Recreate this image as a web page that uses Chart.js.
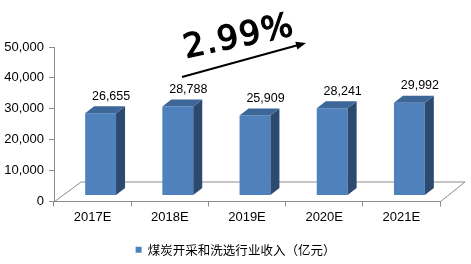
<!DOCTYPE html>
<html>
<head>
<meta charset="utf-8">
<script src="https://cdn.jsdelivr.net/npm/chart.js@4.4.0/dist/chart.umd.min.js"></script>
<style>
  html, body { margin: 0; padding: 0; background: #fff; }
  #wrap { width: 471px; height: 264px; }
</style>
</head>
<body>
<div id="wrap"><canvas id="revenueChart" width="471" height="264"></canvas></div>
<script>
// Données du graphique
const years = ["2017E", "2018E", "2019E", "2020E", "2021E"];
const revenue = [26655, 28788, 25909, 28241, 29992];
const yTicks = [0, 10000, 20000, 30000, 40000, 50000];
const seriesName = "煤炭开采和洗选行业收入（亿元）";
const cagrText = "2.99%";

// Décalage de profondeur pour l'effet 3D
const DEPTH_X = 9, DEPTH_Y = -7;     // faces latérales / dessus
const SHIFT_X = 8, SHIFT_Y = -6;     // barres placées au milieu du sol
const FLOOR_X = 27, FLOOR_Y = -20;   // profondeur du sol

const fmt = v => v.toLocaleString("en-US");

// Plugin : sol 3D, faces des barres, étiquettes, flèche de croissance
const threeD = {
    id: "threeD",
    beforeDatasetsDraw(chart) {
        const { ctx, chartArea: a } = chart;
        ctx.save();
        ctx.strokeStyle = "#8c8c8c";
        ctx.lineWidth = 1;
        ctx.beginPath();
        ctx.moveTo(a.left, a.bottom + 0.5);
        ctx.lineTo(a.left + FLOOR_X, a.bottom + FLOOR_Y + 0.5);
        ctx.lineTo(a.right + FLOOR_X - 2, a.bottom + FLOOR_Y + 0.5);
        ctx.lineTo(a.right, a.bottom + 0.5);
        ctx.stroke();
        ctx.restore();
        // les faces avant sont dessinées par Chart.js, décalées en profondeur
        ctx.save();
        ctx.translate(SHIFT_X, SHIFT_Y);
    },
    afterDatasetsDraw(chart) {
        const { ctx } = chart;
        const meta = chart.getDatasetMeta(0);
        meta.data.forEach((bar, i) => {
            const l = bar.x - bar.width / 2, r = bar.x + bar.width / 2;
            const top = bar.y, base = bar.base;
            // face de droite
            ctx.fillStyle = "#2c4a70";
            ctx.beginPath();
            ctx.moveTo(r, top);
            ctx.lineTo(r + DEPTH_X, top + DEPTH_Y);
            ctx.lineTo(r + DEPTH_X, base + DEPTH_Y);
            ctx.lineTo(r, base);
            ctx.closePath();
            ctx.fill();
            // dessus
            ctx.fillStyle = "#3d6699";
            ctx.beginPath();
            ctx.moveTo(l, top);
            ctx.lineTo(l + DEPTH_X, top + DEPTH_Y);
            ctx.lineTo(r + DEPTH_X, top + DEPTH_Y);
            ctx.lineTo(r, top);
            ctx.closePath();
            ctx.fill();
            // étiquette de valeur
            ctx.fillStyle = "#000";
            ctx.font = "12.5px 'Liberation Sans', Arial, sans-serif";
            ctx.textAlign = "center";
            ctx.textBaseline = "middle";
            ctx.fillText(fmt(revenue[i]), bar.x + 10.5, top - 17);
        });
        ctx.restore();

        // flèche et taux de croissance
        ctx.save();
        ctx.strokeStyle = "#000";
        ctx.fillStyle = "#000";
        ctx.lineWidth = 2;
        const x0 = 182, y0 = 77, x1 = 306, y1 = 43;
        const ang = Math.atan2(y1 - y0, x1 - x0);
        ctx.beginPath();
        ctx.moveTo(x0, y0);
        ctx.lineTo(x1 - 6 * Math.cos(ang), y1 - 6 * Math.sin(ang));
        ctx.stroke();
        ctx.beginPath();
        ctx.moveTo(x1, y1);
        ctx.lineTo(x1 - 10 * Math.cos(ang) + 4 * Math.sin(ang), y1 - 10 * Math.sin(ang) - 4 * Math.cos(ang));
        ctx.lineTo(x1 - 10 * Math.cos(ang) - 4 * Math.sin(ang), y1 - 10 * Math.sin(ang) + 4 * Math.cos(ang));
        ctx.closePath();
        ctx.fill();
        ctx.translate(186, 58);
        ctx.rotate(-12 * Math.PI / 180);
        ctx.font = "33px 'DejaVu Sans', sans-serif";
        ctx.letterSpacing = "1.5px";
        ctx.lineWidth = 1.3;
        ctx.textAlign = "left";
        ctx.textBaseline = "alphabetic";
        ctx.fillText(cagrText, 0, 0);
        ctx.strokeText(cagrText, 0, 0);
        ctx.restore();
    }
};

const ctx = document.getElementById("revenueChart").getContext("2d");
new Chart(ctx, {
    type: "bar",
    data: {
        labels: years,
        datasets: [{
            label: seriesName,
            data: revenue,
            backgroundColor: "#4f81bd",
            borderWidth: 0,
            barPercentage: 0.4,
            categoryPercentage: 1.0
        }]
    },
    options: {
        responsive: false,
        devicePixelRatio: 1,
        animation: false,
        layout: { padding: { left: 0, right: 0, top: 47, bottom: -2 } },
        plugins: {
            legend: {
                position: "bottom",
                labels: {
                    boxWidth: 6,
                    boxHeight: 6,
                    color: "#000",
                    padding: 10,
                    font: { size: 12.5, family: "'Noto Sans CJK SC', 'Liberation Sans', sans-serif" }
                }
            },
            tooltip: { enabled: false }
        },
        scales: {
            x: {
                afterFit: s => { s.height = 32; },
                grid: { drawOnChartArea: false, color: "#8c8c8c", tickLength: 5, offset: true },
                border: { color: "#8c8c8c" },
                ticks: {
                    color: "#000",
                    padding: 3,
                    font: { size: 13, family: "'Liberation Sans', Arial, sans-serif" }
                }
            },
            y: {
                min: 0,
                max: 50000,
                afterFit: s => { s.width = 54; },
                afterBuildTicks: s => { s.ticks = yTicks.map(v => ({ value: v })); },
                grid: { drawOnChartArea: false, color: "#8c8c8c", tickLength: 5 },
                border: { color: "#8c8c8c" },
                ticks: {
                    color: "#000",
                    padding: 5,
                    callback: v => fmt(v),
                    font: { size: 13, family: "'Liberation Sans', Arial, sans-serif" }
                }
            },
            // axe fantôme à droite pour réserver la marge du sol 3D
            yRight: {
                position: "right",
                afterFit: s => { s.width = 31; },
                grid: { display: false },
                border: { display: false },
                ticks: { display: false }
            }
        }
    },
    plugins: [threeD]
});
</script>
</body>
</html>
